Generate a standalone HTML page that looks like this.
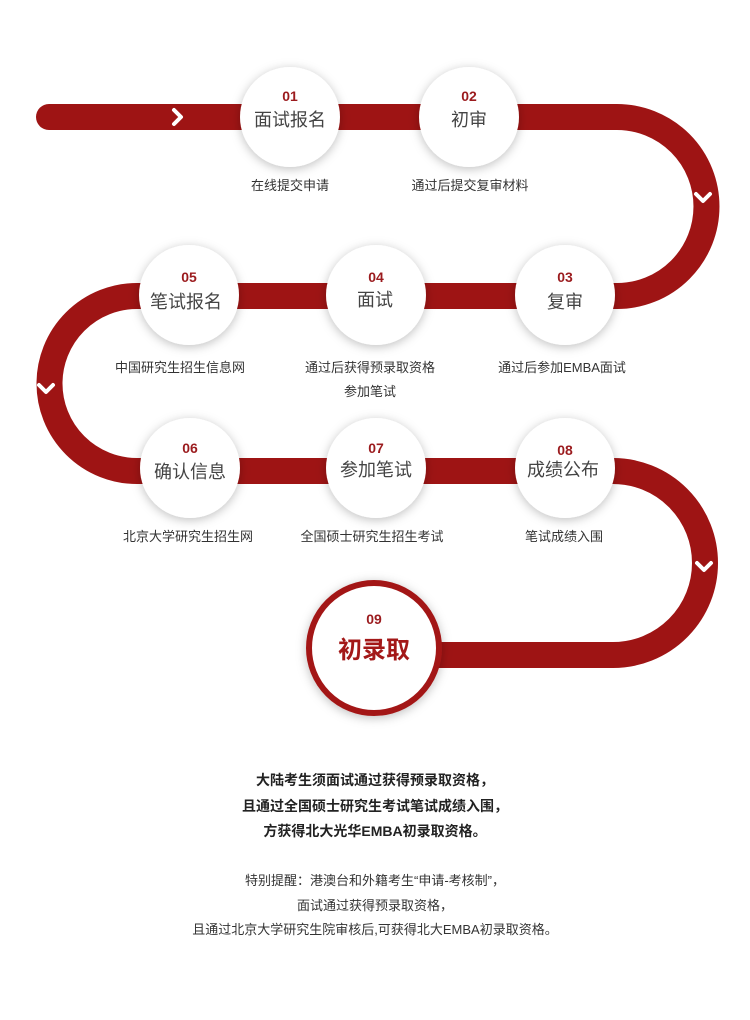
<!DOCTYPE html>
<html><head><meta charset="utf-8"><style>
body{margin:0;background:#fff;width:750px;height:1015px;overflow:hidden;font-family:"Liberation Sans","Noto Sans CJK SC",sans-serif;}
</style></head><body>
<svg width="750" height="1015" viewBox="0 0 750 1015" xmlns="http://www.w3.org/2000/svg" style="font-family:'Liberation Sans','Noto Sans CJK SC',sans-serif">
<defs>
<filter id="sh" x="-30%" y="-30%" width="160%" height="160%"><feDropShadow dx="0" dy="2" stdDeviation="5" flood-color="#000" flood-opacity="0.25"/></filter>
</defs>
<path d="M49 117 H617 A89.5 89.5 0 0 1 617 296 H137 A87.5 87.5 0 0 0 137 471 H613 A92 92 0 0 1 613 655 H374" fill="none" stroke="#9e1414" stroke-width="26" stroke-linecap="round"/>
<g fill="none" stroke="#fff" stroke-width="4" stroke-linecap="round" stroke-linejoin="round">
<path d="M174 110 L181 117 L174 124"/>
<path d="M696 194 L703 201 L710 194"/>
<path d="M39 385 L46 392 L53 385"/>
<path d="M697 563 L704 570 L711 563"/>
</g>
<g fill="#fff" filter="url(#sh)">
<circle cx="290" cy="117" r="50"/><circle cx="469" cy="117" r="50"/>
<circle cx="189" cy="295" r="50"/><circle cx="376" cy="295" r="50"/><circle cx="565" cy="295" r="50"/>
<circle cx="190" cy="468" r="50"/><circle cx="376" cy="468" r="50"/><circle cx="565" cy="468" r="50"/>
</g>
<circle cx="374" cy="648" r="65" fill="#fff" stroke="#a31818" stroke-width="6" filter="url(#sh)"/>
<g text-anchor="middle" font-weight="bold" fill="#9b1b1e" font-size="14">
<text x="290" y="101">01</text><text x="469" y="101">02</text>
<text x="189" y="282">05</text><text x="376" y="282">04</text><text x="565" y="282">03</text>
<text x="190" y="453">06</text><text x="376" y="453">07</text><text x="565" y="455">08</text>
<text x="374" y="624">09</text>
</g>
<g text-anchor="middle" fill="#444" font-size="18">
<text x="290" y="126">面试报名</text><text x="469" y="126">初审</text>
<text x="186" y="308">笔试报名</text><text x="375" y="306">面试</text><text x="565" y="308">复审</text>
<text x="190" y="478">确认信息</text><text x="376" y="476">参加笔试</text><text x="563" y="476">成绩公布</text>
</g>
<text x="374" y="658" text-anchor="middle" font-size="24" font-weight="bold" fill="#a31818">初录取</text>
<g text-anchor="middle" fill="#333" font-size="13">
<text x="290" y="190">在线提交申请</text><text x="470" y="190">通过后提交复审材料</text>
<text x="180" y="372">中国研究生招生信息网</text><text x="370" y="372">通过后获得预录取资格</text><text x="370" y="396">参加笔试</text><text x="562" y="372">通过后参加EMBA面试</text>
<text x="188" y="541">北京大学研究生招生网</text><text x="372" y="541">全国硕士研究生招生考试</text><text x="564" y="541">笔试成绩入围</text>
</g>
<g text-anchor="middle" fill="#222" font-size="14" font-weight="bold">
<text x="375" y="785">大陆考生须面试通过获得预录取资格，</text>
<text x="375" y="811">且通过全国硕士研究生考试笔试成绩入围，</text>
<text x="375" y="836">方获得北大光华EMBA初录取资格。</text>
</g>
<g text-anchor="middle" fill="#333" font-size="13">
<text x="375" y="885">特别提醒：港澳台和外籍考生“申请-考核制”，</text>
<text x="375" y="910">面试通过获得预录取资格，</text>
<text x="375" y="934">且通过北京大学研究生院审核后,可获得北大EMBA初录取资格。</text>
</g>
</svg>
</body></html>
